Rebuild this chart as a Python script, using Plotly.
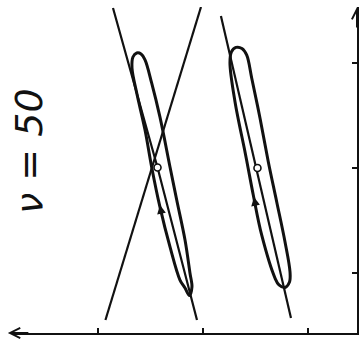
import plotly.graph_objects as go

# Straight characteristic lines (axis units)
line_a_x = [2.857, 2.433, 2.057]
line_a_y = [3.524, 2.005, 0.552]
line_b_x = [2.929, 2.019]
line_b_y = [0.552, 3.533]
line_c_x = [1.829, 1.162]
line_c_y = [3.448, 0.571]

# Hysteresis loops, traced from the rising (left) branch round the top cap,
# down the falling branch and back up
loop_l_x = [2.489, 2.552, 2.631, 2.676, 2.667, 2.631, 2.590, 2.552, 2.489, 2.410,
            2.314, 2.250, 2.171, 2.124, 2.105, 2.129, 2.171, 2.219, 2.314, 2.410, 2.489]
loop_l_y = [2.010, 2.362, 2.714, 2.952, 3.057, 3.095, 3.086, 3.029, 2.810, 2.486,
            2.010, 1.695, 1.314, 1.000, 0.867, 0.786, 0.857, 0.933, 1.248, 1.629, 2.010]
loop_r_x = [1.572, 1.600, 1.695, 1.743, 1.729, 1.686, 1.629, 1.584, 1.536, 1.457,
            1.378, 1.298, 1.219, 1.171, 1.176, 1.219, 1.276, 1.314, 1.441, 1.521, 1.572]
loop_r_y = [2.010, 2.155, 2.631, 3.000, 3.105, 3.148, 3.138, 3.076, 2.857, 2.476,
            2.060, 1.679, 1.298, 1.010, 0.914, 0.862, 0.886, 0.952, 1.362, 1.743, 2.010]

# Equilibrium points
centre_x = [2.433, 1.481]
centre_y = [2.005, 2.000]

# Direction marks on the rising branches
dir_x = [2.410, 1.514]
dir_y = [1.648, 1.724]

x_ticks = [1, 2, 3]
y_ticks = [1, 2, 3]
label = "ν = 50"

INK = "#111111"

fig = go.Figure()

for xs, ys in [(line_a_x, line_a_y), (line_b_x, line_b_y), (line_c_x, line_c_y)]:
    fig.add_trace(go.Scatter(x=xs, y=ys, mode="lines",
                             line=dict(color=INK, width=2.2), hoverinfo="skip"))

for xs, ys in [(loop_l_x, loop_l_y), (loop_r_x, loop_r_y)]:
    fig.add_trace(go.Scatter(x=xs, y=ys, mode="lines",
                             line=dict(color=INK, width=3, shape="spline", smoothing=1.0),
                             hoverinfo="skip"))

fig.add_trace(go.Scatter(x=centre_x, y=centre_y, mode="markers",
                         marker=dict(symbol="circle", size=7, color="white",
                                     line=dict(color=INK, width=1.6)),
                         hoverinfo="skip"))

for xv, yv in zip(dir_x, dir_y):
    fig.add_annotation(x=xv, y=yv, xref="x", yref="y", ax=2, ay=11,
                       showarrow=True, arrowhead=2, arrowsize=1.1, arrowwidth=1.6,
                       arrowcolor=INK, text="")

# Axis arrows: leftward on the abscissa, upward on the ordinate
fig.add_annotation(x=-0.012, y=0, xref="paper", yref="paper", ax=22, ay=0,
                   showarrow=True, arrowhead=5, arrowsize=1, arrowwidth=2,
                   arrowcolor=INK, text="")
fig.add_annotation(x=1, y=1.0, xref="paper", yref="paper", ax=0, ay=22,
                   showarrow=True, arrowhead=5, arrowsize=1, arrowwidth=2,
                   arrowcolor=INK, text="")

fig.add_annotation(x=3.657, y=2.162, xref="x", yref="y", text=label,
                   showarrow=False, textangle=-90,
                   font=dict(family="DejaVu Sans", size=38, color=INK, style="italic"),
                   xanchor="center", yanchor="middle")

fig.update_layout(
    width=359, height=345,
    margin=dict(l=12, r=2, t=7, b=12),
    paper_bgcolor="white", plot_bgcolor="white",
    showlegend=False,
    xaxis=dict(range=[3.819, 0.533], showline=True, linecolor=INK, linewidth=2,
               ticks="inside", ticklen=5, tickwidth=1.6, tickcolor=INK,
               tickvals=x_ticks, showticklabels=False, showgrid=False, zeroline=False),
    yaxis=dict(range=[0.4286, 3.533], side="right", showline=True, linecolor=INK,
               linewidth=2, ticks="inside", ticklen=5, tickwidth=1.6, tickcolor=INK,
               tickvals=y_ticks, showticklabels=False, showgrid=False, zeroline=False),
)

fig.write_html("out.html")
